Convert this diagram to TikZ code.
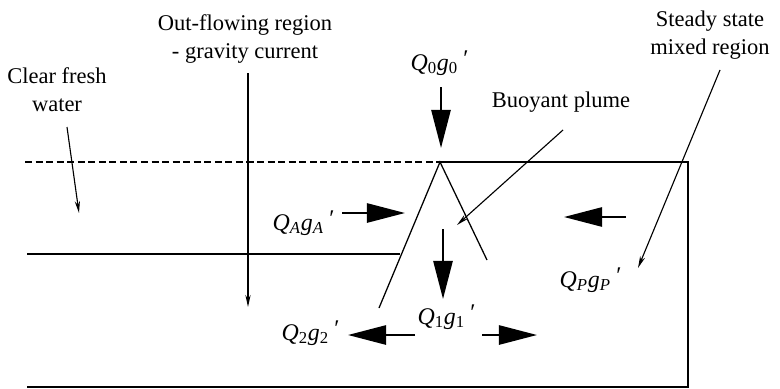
\documentclass[tikz,border=0pt]{standalone}
\usepackage{fontspec}
\setmainfont{Liberation Serif}
\usetikzlibrary{arrows.meta}

\newcommand{\flux}[2]{\textit{Q}\textsubscript{#1}\textit{g}\textsubscript{#2}\,\raisebox{0.35ex}{\textit{′}}}

\begin{document}
\begin{tikzpicture}[x=0.025cm,y=-0.025cm,line width=0.9pt,
 lbl/.style={align=center,font=\fontsize{16}{20}\selectfont,inner sep=0pt},
 ql/.style={font=\fontsize{17}{20}\selectfont,inner sep=0pt},
 big/.style={-{Triangle[length=9.5mm,width=4.8mm]},line width=1.4pt},
 ptr/.style={-{Stealth[length=3mm,width=1.3mm]},line width=0.8pt}]
 \useasboundingbox (0,0) rectangle (780,388);
 % tank
 \draw[dash pattern=on 5pt off 2.5pt] (25,162) -- (440,162);
 \draw (440,162) -- (688,162) -- (688,387) -- (27,387);
 \draw (27,254) -- (400,254);
 \coordinate (apex) at (440,162);
 \coordinate (pl) at (379,308);
 \coordinate (pr) at (487,260);
 \draw (pl) -- (apex) -- (pr);
 % labels
 \node[lbl] (fresh) at (57,90) {Clear fresh\\water};
 \node[lbl] (out) at (245,39) {Out-flowing region\\- gravity current};
 \node[lbl] (steady) at (710,35) {Steady state\\mixed region};
 \node[lbl] (plume) at (561,102) {Buoyant plume};
 \node[ql] (q0) at (439,63) {\flux{0}{0}};
 \node[ql] (qa) at (303,223) {\flux{\textit{A}}{\textit{A}}};
 \node[ql] (q2) at (310,333) {\flux{2}{2}};
 \node[ql] (q1) at (446,317) {\flux{1}{1}};
 \node[ql] (qp) at (590,280) {\flux{\textit{P}}{\textit{P}}};
 % pointers
 \coordinate (f1) at (67,127); \coordinate (f2) at (79,213);
 \coordinate (o1) at (248,73); \coordinate (o2) at (248,307);
 \coordinate (b1) at (563,130); \coordinate (b2) at (457,225);
 \coordinate (s1) at (720,70); \coordinate (s2) at (638,268);
 \draw[ptr] (f1) -- (f2);
 \draw[ptr] (o1) -- (o2);
 \draw[ptr] (b1) -- (b2);
 \draw[ptr] (s1) -- (s2);
 % flows
 \coordinate (a0) at (441,87); \coordinate (a1) at (441,148);
 \coordinate (a2) at (342,213); \coordinate (a3) at (405,213);
 \coordinate (a4) at (626,217); \coordinate (a5) at (564,217);
 \coordinate (a6) at (443,229); \coordinate (a7) at (443,299);
 \coordinate (a8) at (415,335); \coordinate (a9) at (348,335);
 \coordinate (a10) at (482,335); \coordinate (a11) at (537,335);
 \draw[big] (a0) -- (a1);
 \draw[big] (a2) -- (a3);
 \draw[big] (a4) -- (a5);
 \draw[big] (a6) -- (a7);
 \draw[big] (a8) -- (a9);
 \draw[big] (a10) -- (a11);
\end{tikzpicture}
\end{document}
